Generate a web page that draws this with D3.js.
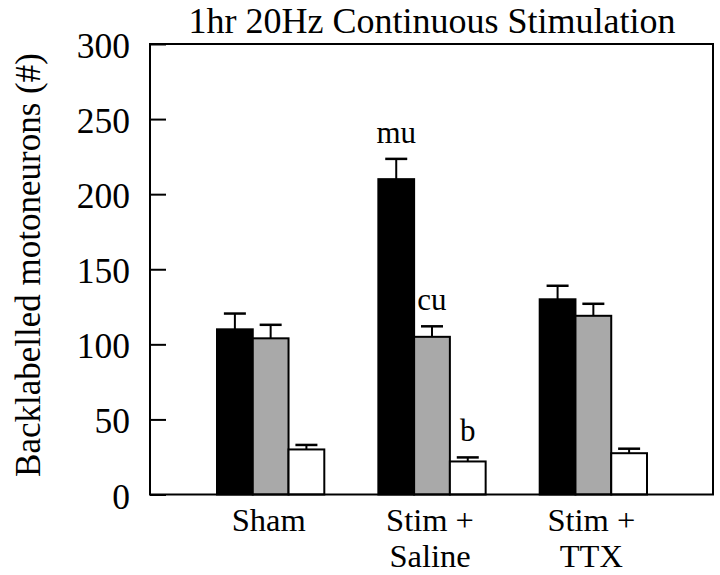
<!DOCTYPE html>
<html>
<head>
<meta charset="utf-8">
<script src="https://cdn.jsdelivr.net/npm/d3@7"></script>
<style>
  html, body { margin: 0; padding: 0; background: #fff; }
  svg { display: block; }
  text { font-family: "Liberation Serif", "Times New Roman", serif; fill: #000; }
</style>
</head>
<body>
<svg id="chart" width="720" height="575"></svg>
<script>
// ---- data ----
const groups = ["Sham", "Stim + Saline", "Stim + TTX"];
const groupLabelLines = [["Sham"], ["Stim +", "Saline"], ["Stim +", "TTX"]];
const series = ["A", "B", "C"];
const seriesColors = ["#000000", "#a9a9a9", "#ffffff"];
const valuesA = [110, 210, 130];
const valuesB = [104, 105, 119];
const valuesC = [30, 22, 27.5];
const errorsA = [10.5, 13.5, 9];
const errorsB = [9, 7, 8];
const errorsC = [3, 2.7, 3];
const yTicks = [0, 50, 100, 150, 200, 250, 300];
const annotations = [
  { group: 1, series: 0, text: "mu" },
  { group: 1, series: 1, text: "cu" },
  { group: 1, series: 2, text: "b" }
];
const title = "1hr 20Hz Continuous Stimulation";
const yLabel = "Backlabelled motoneurons (#)";

// ---- layout ----
const frame = { left: 150, right: 713, top: 44, bottom: 494.5 };
const svg = d3.select("#chart");

const y = d3.scaleLinear().domain([0, 300]).range([frame.bottom, frame.top]);
const x0 = d3.scaleBand().domain(groups).range([217, 647]).paddingInner(0.335).paddingOuter(0);
const x1 = d3.scaleBand().domain(series).range([0, x0.bandwidth()]).padding(0);

const allValues = [valuesA, valuesB, valuesC];
const allErrors = [errorsA, errorsB, errorsC];
const rows = [];
groups.forEach((g, gi) => {
  series.forEach((s, si) => {
    rows.push({ g, gi, s, si, v: allValues[si][gi], e: allErrors[si][gi] });
  });
});

// error bars (drawn beneath bars)
const eb = svg.append("g");
eb.selectAll("line.stem").data(rows).join("line")
  .attr("x1", d => x0(d.g) + x1(d.s) + x1.bandwidth() / 2)
  .attr("x2", d => x0(d.g) + x1(d.s) + x1.bandwidth() / 2)
  .attr("y1", d => y(d.v))
  .attr("y2", d => y(d.v + d.e))
  .attr("stroke", "#000").attr("stroke-width", 2);
eb.selectAll("line.cap").data(rows).join("line")
  .attr("x1", d => x0(d.g) + x1(d.s) + x1.bandwidth() / 2 - 11)
  .attr("x2", d => x0(d.g) + x1(d.s) + x1.bandwidth() / 2 + 11)
  .attr("y1", d => y(d.v + d.e))
  .attr("y2", d => y(d.v + d.e))
  .attr("stroke", "#000").attr("stroke-width", 2.5);

// bars
svg.append("g").selectAll("rect").data(rows).join("rect")
  .attr("x", d => x0(d.g) + x1(d.s))
  .attr("y", d => y(d.v))
  .attr("width", x1.bandwidth())
  .attr("height", d => y(0) - y(d.v))
  .attr("fill", d => seriesColors[d.si])
  .attr("stroke", "#000").attr("stroke-width", 2);

// frame
svg.append("rect")
  .attr("x", frame.left).attr("y", frame.top)
  .attr("width", frame.right - frame.left).attr("height", frame.bottom - frame.top)
  .attr("fill", "none").attr("stroke", "#000").attr("stroke-width", 2);

// y axis
const yAxis = d3.axisLeft(y).tickValues(yTicks).tickSize(-16).tickPadding(20).tickFormat(d3.format("d"));
const ya = svg.append("g").attr("transform", `translate(${frame.left},0)`).call(yAxis);
ya.select(".domain").remove();
ya.selectAll(".tick line").attr("stroke", "#000").attr("stroke-width", 2);
ya.selectAll(".tick text")
  .attr("font-size", 35.5).attr("dy", "0.38em")
  .style("font-family", "'Liberation Serif', 'Times New Roman', serif").attr("fill", "#000");

// x labels (one text per line)
const xl = svg.append("g");
groups.forEach((g, gi) => {
  groupLabelLines[gi].forEach((line, li) => {
    xl.append("text")
      .attr("x", x0(g) + x0.bandwidth() / 2 - 2)
      .attr("y", 531 + li * 36)
      .attr("text-anchor", "middle")
      .attr("font-size", 32.5)
      .text(line);
  });
});

// annotations
svg.append("g").selectAll("text").data(annotations).join("text")
  .attr("x", d => x0(groups[d.group]) + x1(series[d.series]) + x1.bandwidth() / 2)
  .attr("y", d => y(allValues[d.series][d.group] + allErrors[d.series][d.group]) - 16)
  .attr("text-anchor", "middle")
  .attr("font-size", 31)
  .text(d => d.text);

// title
svg.append("text")
  .attr("x", 432).attr("y", 32.5)
  .attr("text-anchor", "middle")
  .attr("font-size", 36)
  .text(title);

// y label
svg.append("text")
  .attr("transform", "translate(40,265) rotate(-90)")
  .attr("text-anchor", "middle")
  .attr("font-size", 35)
  .text(yLabel);
</script>
</body>
</html>
